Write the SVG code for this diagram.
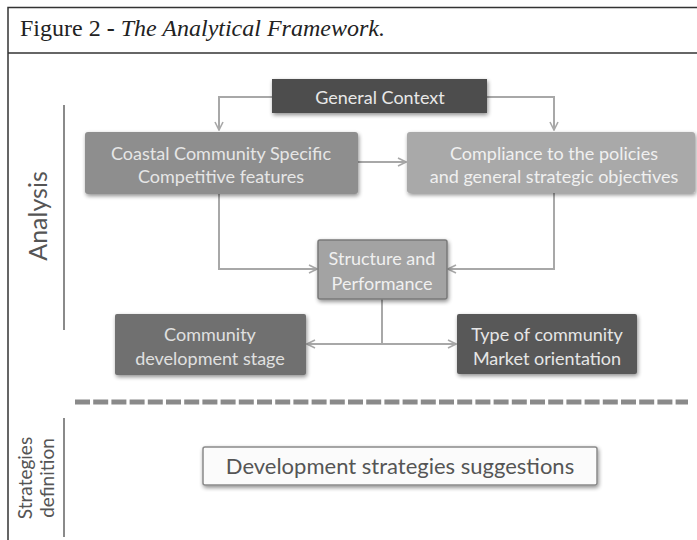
<svg xmlns="http://www.w3.org/2000/svg" width="697" height="540" viewBox="0 0 697 540">
<style>
.frame{stroke:#333;stroke-width:1.5;fill:none}
.box{filter:url(#sh)}
.lbl{font-family:Lato,"Open Sans",sans-serif;font-size:18px;text-anchor:middle}
.conn{fill:none;stroke:#a8a8a8;stroke-width:2}
.side{font-family:Lato,"Open Sans",sans-serif;fill:#555;text-anchor:middle}
</style>
<defs>
<filter id="sh" x="-10%" y="-20%" width="120%" height="150%">
<feGaussianBlur in="SourceAlpha" stdDeviation="2"/>
<feOffset dx="1" dy="2" result="b"/>
<feComponentTransfer><feFuncA type="linear" slope="0.45"/></feComponentTransfer>
<feMerge><feMergeNode/><feMergeNode in="SourceGraphic"/></feMerge>
</filter>
<marker id="arr" viewBox="0 0 10 10" refX="9" refY="5" markerWidth="10" markerHeight="10" markerUnits="userSpaceOnUse" orient="auto-start-reverse">
<path d="M1,1 L9,5 L1,9" fill="none" stroke="#a8a8a8" stroke-width="1.6"/>
</marker>
</defs>
<rect width="697" height="540" fill="#fff"/>
<g id="frame">
<path class="frame" d="M8,540 V7.5 H697"/>
<line class="frame" x1="8" y1="53" x2="697" y2="53"/>
<text x="20" y="36" font-family="Liberation Serif,serif" font-size="23" fill="#222" textLength="365" lengthAdjust="spacingAndGlyphs">Figure 2 <tspan font-weight="bold">-</tspan> <tspan font-style="italic">The Analytical Framework.</tspan></text>
</g>
<g id="connectors">
<path class="conn" d="M272,97 H219 V130" marker-end="url(#arr)"/>
<path class="conn" d="M487,97 H554 V130" marker-end="url(#arr)"/>
<path class="conn" d="M358,162 H406" marker-end="url(#arr)"/>
<path class="conn" d="M219,194 V269 H317" marker-end="url(#arr)"/>
<path class="conn" d="M554,193 V269 H448" marker-end="url(#arr)"/>
<path class="conn" d="M382,299 V344"/>
<path class="conn" d="M307,344 H456" marker-start="url(#arr)" marker-end="url(#arr)"/>
</g>
<g id="general-context">
<rect class="box" x="272" y="79" width="215" height="34" fill="#4d4d4d"/>
<text class="lbl" x="380" y="104" fill="#e8e8e8">General Context</text>
</g>
<g id="coastal">
<rect class="box" x="85" y="132" width="273" height="62" rx="3" fill="#8e8e8e"/>
<text class="lbl" x="221" y="160" fill="#e6e6e6">Coastal Community Specific</text>
<text class="lbl" x="221" y="183" fill="#e6e6e6">Competitive features</text>
</g>
<g id="compliance">
<rect class="box" x="407" y="132" width="288" height="61" rx="3" fill="#a9a9a9"/>
<text class="lbl" x="554" y="160" fill="#f0f0f0">Compliance to the policies</text>
<text class="lbl" x="554" y="183" fill="#f0f0f0">and general strategic objectives</text>
</g>
<g id="structure">
<rect class="box" x="318" y="240" width="129" height="59" rx="2" fill="#a3a3a3" stroke="#7a7a7a" stroke-width="1.5"/>
<text class="lbl" x="382" y="265" fill="#f0f0f0">Structure and</text>
<text class="lbl" x="382" y="290" fill="#f0f0f0">Performance</text>
</g>
<g id="community-stage">
<rect class="box" x="115" y="314" width="191" height="61" rx="2" fill="#6f6f6f"/>
<text class="lbl" x="210" y="341" fill="#e0e0e0">Community</text>
<text class="lbl" x="210" y="365" fill="#e0e0e0">development stage</text>
</g>
<g id="type-community">
<rect class="box" x="457" y="314" width="180" height="60" rx="2" fill="#585858"/>
<text class="lbl" x="547" y="341" fill="#e6e6e6">Type of community</text>
<text class="lbl" x="547" y="365" fill="#e6e6e6">Market orientation</text>
</g>
<g id="divider">
<line x1="75" y1="402" x2="688" y2="402" stroke="#8a8a8a" stroke-width="5" stroke-dasharray="15 3.2"/>
</g>
<g id="analysis-label">
<line x1="64" y1="105" x2="64" y2="330" stroke="#8a8a8a" stroke-width="2"/>
<text class="side" font-size="25" transform="translate(47,216) rotate(-90)">Analysis</text>
</g>
<g id="strategies-label">
<line x1="64" y1="418" x2="64" y2="537" stroke="#8a8a8a" stroke-width="2"/>
<text class="side" font-size="19" transform="translate(32,478) rotate(-90)">Strategies</text>
<text class="side" font-size="19" transform="translate(54,478) rotate(-90)">definition</text>
</g>
<g id="dev-strategies">
<rect class="box" x="203" y="447" width="394" height="38" rx="2" fill="#fbfbfb" stroke="#8a8a8a" stroke-width="1.5"/>
<text class="side" font-size="22" x="400" y="474">Development strategies suggestions</text>
</g>
</svg>
